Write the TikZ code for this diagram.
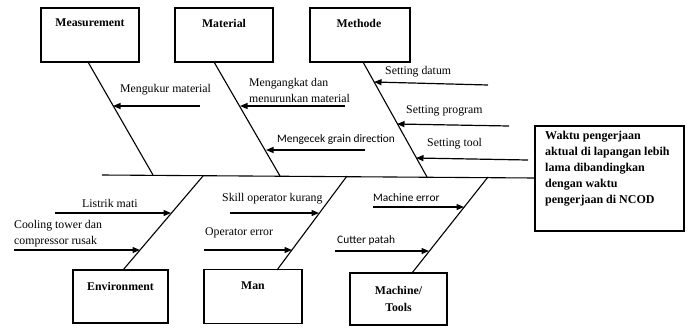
\documentclass[tikz,border=0pt]{standalone}
\usepackage{fontspec}
\setmainfont{Liberation Serif}
\newfontfamily\causesans{Carlito}
\usetikzlibrary{arrows.meta}

\begin{document}
\begin{tikzpicture}[x=1pt,y=-1pt,
  catbox/.style={draw,line width=1.1pt,inner sep=0pt,minimum width=98pt,minimum height=54pt},
  cattext/.style={font=\fontsize{11.8}{17}\selectfont\bfseries,inner sep=0pt,align=center},
  bone/.style={line width=1.1pt},
  cause/.style={line width=1.2pt,-{Triangle[length=7.5pt,width=6pt]}},
  ctext/.style={font=\fontsize{11.8}{16}\selectfont,inner sep=0pt,anchor=west,align=left},
  stext/.style={font=\causesans\fontsize{11.4}{16}\selectfont,inner sep=0pt,anchor=west,align=left}]
\useasboundingbox (0,0) rectangle (688,327);

% category boxes
\node[catbox] (meas) at (90,35) {};
\node[catbox] (mat)  at (224,35) {};
\node[catbox,minimum width=100pt] (meth) at (360,35) {};
\node[catbox,minimum width=95pt,minimum height=53pt] (env) at (120.5,296.5) {};
\node[catbox] (man) at (253,296.5) {};
\node[catbox,minimum width=97pt,minimum height=52pt] (mach) at (398.5,299) {};

\node[cattext] (measT) at (90,23) {Measurement};
\node[cattext] (matT)  at (224,23) {Material};
\node[cattext] (methT) at (359,23) {Methode};
\node[cattext] (envT)  at (120.5,286) {Environment};
\node[cattext] (manT)  at (253,286) {Man};
\node[cattext] (machT) at (398.5,298.5) {Machine/\\Tools};

% effect box
\node[draw,line width=1.1pt,inner sep=0pt,minimum width=149pt,minimum height=105pt] (eff) at (609.5,178.5) {};
\node[font=\fontsize{12}{16}\selectfont\bfseries,inner sep=0pt,anchor=north west,align=left]
  (effT) at (545,131) {Waktu pengerjaan\\aktual di lapangan lebih\\lama dibandingkan\\dengan waktu\\pengerjaan di NCOD};

% spine
\coordinate (spL) at (102,175);
\coordinate (spR) at (535,178);
\draw[bone] (spL) -- (spR);

% bone end points
\coordinate (b1a) at (88,62);   \coordinate (b1b) at (153,175);
\coordinate (b2a) at (214,62);  \coordinate (b2b) at (280,176);
\coordinate (b3a) at (363,62);  \coordinate (b3b) at (427,177);
\coordinate (b4a) at (203,176); \coordinate (b4b) at (123,270);
\coordinate (b5a) at (347,176); \coordinate (b5b) at (277,270);
\coordinate (b6a) at (488,177); \coordinate (b6b) at (412,273);
\draw[bone] (b1a) -- (b1b);
\draw[bone] (b2a) -- (b2b);
\draw[bone] (b3a) -- (b3b);
\draw[bone] (b4a) -- (b4b);
\draw[bone] (b5a) -- (b5b);
\draw[bone] (b6a) -- (b6b);

% cause arrows: start and tip on the bone
\coordinate (s1) at (200,106);  \coordinate (t1) at (113,106);
\coordinate (s2) at (345,106);  \coordinate (t2) at (240,106);
\coordinate (s3) at (365,150);  \coordinate (t3) at (266,150);
\coordinate (s4) at (488,85);   \coordinate (t4) at (374,82);
\coordinate (s5) at (509,126);  \coordinate (t5) at (397,124);
\coordinate (s6) at (528,160);  \coordinate (t6) at (416,158);
\coordinate (s7) at (55,213);   \coordinate (t7) at (171,213);
\coordinate (s8) at (14,250);   \coordinate (t8) at (140,250);
\coordinate (s9) at (230,213);  \coordinate (t9) at (319,213);
\coordinate (s10) at (204,250); \coordinate (t10) at (292,250);
\coordinate (s11) at (373,207); \coordinate (t11) at (464,207);
\coordinate (s12) at (335,251); \coordinate (t12) at (429,251);
\foreach \i in {1,...,12} { \draw[cause] (s\i) -- (t\i); }

% cause labels
\node[ctext] (c1) at (120,90) {Mengukur material};
\node[ctext] (c2) at (249,90) {Mengangkat dan\\menurunkan material};
\node[stext] (c3) at (277,140) {Mengecek grain direction};
\node[ctext] (c4) at (385,72) {Setting datum};
\node[ctext] (c5) at (406,111) {Setting program};
\node[ctext] (c6) at (427,144) {Setting tool};
\node[ctext] (c7) at (82,203) {Listrik mati};
\node[ctext] (c8) at (14,233.5) {Cooling tower dan\\compressor rusak};
\node[ctext] (c9) at (222,199) {Skill operator kurang};
\node[ctext] (c10) at (205,233) {Operator error};
\node[stext] (c11) at (373,198) {Machine error};
\node[stext] (c12) at (337,240) {Cutter patah};
\end{tikzpicture}
\end{document}
